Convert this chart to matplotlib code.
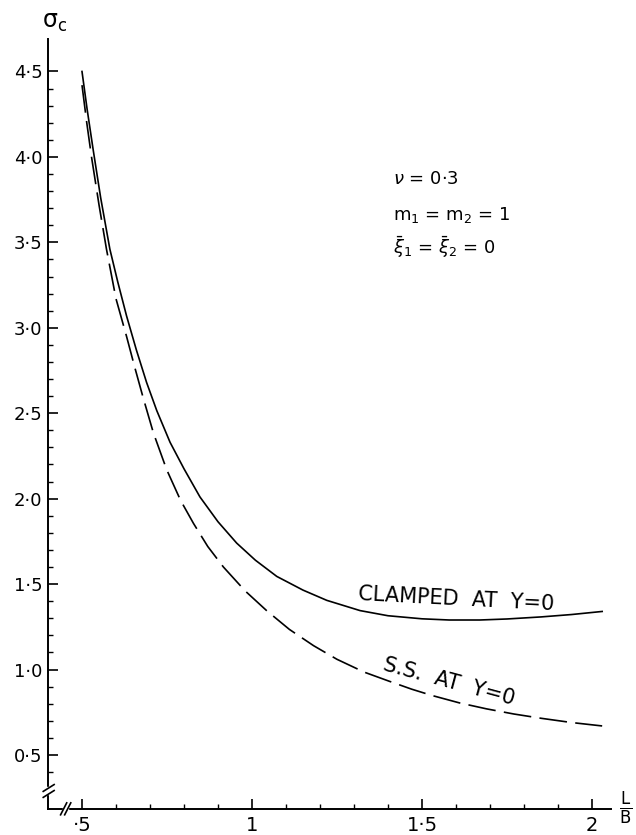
import matplotlib
matplotlib.use("Agg")
import matplotlib.pyplot as plt
from matplotlib.lines import Line2D
from matplotlib.patches import Rectangle

# ---------------------------------------------------------------
# data (x = L/B, y = sigma_c)
# ---------------------------------------------------------------
clamped_x = [0.50, 0.515, 0.533, 0.555, 0.582, 0.605, 0.631, 0.66, 0.690,
             0.72, 0.759, 0.80, 0.847, 0.90, 0.955, 1.01, 1.073, 1.15,
             1.22, 1.318, 1.40, 1.50, 1.58, 1.67, 1.75, 1.85, 1.94, 2.03]
clamped_y = [4.50, 4.28, 4.04, 3.76, 3.46, 3.27, 3.07, 2.87, 2.68,
             2.515, 2.33, 2.175, 2.01, 1.865, 1.74, 1.64, 1.545, 1.465,
             1.405, 1.345, 1.315, 1.297, 1.29, 1.29, 1.296, 1.308, 1.322, 1.34]

ss_x = [0.50, 0.514, 0.528, 0.55, 0.572, 0.60, 0.631, 0.655, 0.680, 0.71,
        0.749, 0.79, 0.828, 0.87, 0.916, 0.98, 1.043, 1.11, 1.181, 1.25,
        1.33, 1.406, 1.47, 1.53, 1.61, 1.69, 1.77, 1.85, 1.94, 2.03]
ss_y = [4.42, 4.20, 4.00, 3.72, 3.46, 3.17, 2.95, 2.77, 2.59, 2.385,
        2.17, 1.99, 1.855, 1.72, 1.60, 1.46, 1.345, 1.235, 1.14, 1.06,
        0.985, 0.93, 0.885, 0.848, 0.805, 0.77, 0.74, 0.715, 0.69, 0.67]

xticks = [0.5, 1.0, 1.5, 2.0]
xtick_labels = ["·5", "1", "1·5", "2"]
yticks = [0.5, 1.0, 1.5, 2.0, 2.5, 3.0, 3.5, 4.0, 4.5]
ytick_labels = ["0·5", "1·0", "1·5", "2·0", "2·5", "3·0", "3·5", "4·0", "4·5"]

plt.rcParams["font.family"] = ["DejaVu Sans"]
plt.rcParams["mathtext.fontset"] = "dejavusans"
plt.rcParams["lines.scale_dashes"] = False

fig = plt.figure(figsize=(6.36, 8.35), dpi=100)
ax = fig.add_axes([48 / 636, 26 / 835, 563 / 636, 770 / 835])

ax.plot(clamped_x, clamped_y, color="black", lw=1.2, solid_joinstyle="round")
ax.plot(ss_x, ss_y, color="black", lw=1.2, dashes=(20, 6),
        dash_joinstyle="round")

ax.set_xlim(0.4, 2.056)
ax.set_ylim(0.184, 4.69)

# axes look: left + bottom only, ticks inward
for side in ["top", "right"]:
    ax.spines[side].set_visible(False)
for side in ["left", "bottom"]:
    ax.spines[side].set_linewidth(1.4)

ax.set_xticks(xticks)
ax.set_xticklabels(xtick_labels, fontsize=14)
ax.set_yticks(yticks)
ax.set_yticklabels(ytick_labels, fontsize=13)
ax.set_xticks([0.6, 0.7, 0.8, 0.9, 1.1, 1.2, 1.3, 1.4, 1.6, 1.7, 1.8, 1.9], minor=True)
ax.set_yticks([0.4] + [v / 10 for v in range(6, 45) if v % 5 != 0], minor=True)
ax.tick_params(which="major", direction="in", length=7, width=1.2, pad=4)
ax.tick_params(which="minor", direction="in", length=3.5, width=1.0)
ax.tick_params(axis="x", which="major", pad=5)

# axis breaks (white gaps + slanted strokes)
tr = ax.transData
ax.add_patch(Rectangle((0.389, 0.27), 0.025, 0.04, transform=tr, color="white",
                       clip_on=False, zorder=5))
for yy in (0.272, 0.307):
    ax.add_line(Line2D([0.386, 0.418], [yy - 0.02, yy + 0.02], transform=tr,
                       color="black", lw=1.2, clip_on=False, zorder=6))
ax.add_patch(Rectangle((0.444, 0.15), 0.016, 0.07, transform=tr, color="white",
                       clip_on=False, zorder=5))
for xx in (0.446, 0.458):
    ax.add_line(Line2D([xx - 0.009, xx + 0.009], [0.15, 0.22], transform=tr,
                       color="black", lw=1.2, clip_on=False, zorder=6))

# axis titles
fig.text(55 / 636, 1 - 22 / 835, r"$\mathrm{\sigma}_{\mathrm{c}}$", fontsize=17,
         ha="center", va="center")
fig.text(626 / 636, 1 - 808 / 835, r"$\frac{\mathrm{L}}{\mathrm{B}}$", fontsize=17,
         ha="center", va="center")

# parameter block
ax.text(1.415, 3.84, r"$\nu$ = 0·3", fontsize=13, ha="left", va="baseline")
ax.text(1.415, 3.63, r"m$_1$ = m$_2$ = 1", fontsize=13, ha="left", va="baseline")
ax.text(1.415, 3.43, r"$\bar{\xi}_1$ = $\bar{\xi}_2$ = 0", fontsize=13,
        ha="left", va="baseline")

# curve labels
ax.text(1.60, 1.41, "CLAMPED  AT  Y=0", fontsize=15, ha="center", va="center",
        rotation=-3)
ax.text(1.58, 0.93, "S.S.  AT  Y=0", fontsize=15, ha="center", va="center",
        rotation=-15)

fig.savefig("out.png", dpi=100)
